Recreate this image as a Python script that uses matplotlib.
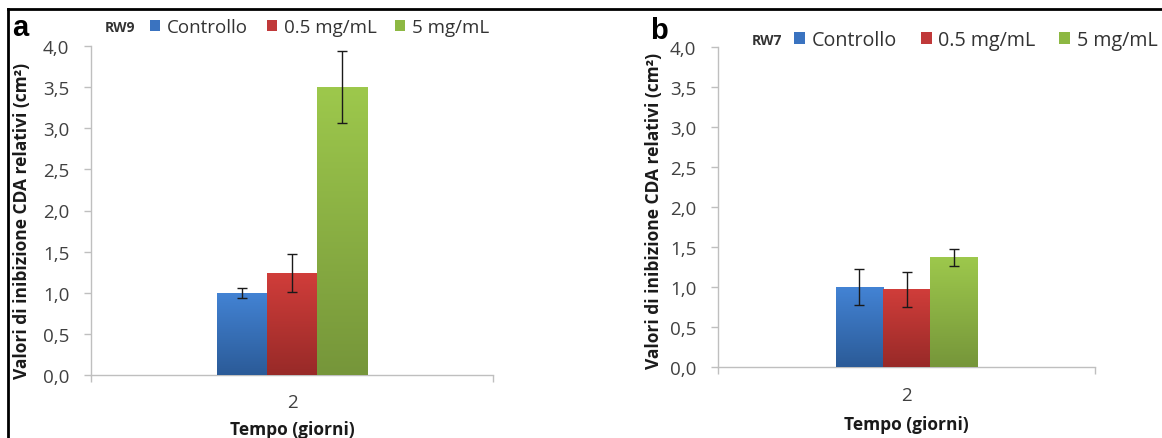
import numpy as np
import matplotlib
matplotlib.use("Agg")
from matplotlib import pyplot as plt
from matplotlib.patches import Patch
from matplotlib.lines import Line2D

plt.rcParams['font.family'] = ['Open Sans', 'DejaVu Sans']

# data
groups = ["Controllo", "0.5 mg/mL", "5 mg/mL"]
day_label = ["2"]
rw9_vals = [1.0, 1.24, 3.5]
rw9_err = [0.06, 0.23, 0.44]
rw7_vals = [1.0, 0.97, 1.37]
rw7_err = [0.22, 0.22, 0.11]

# colours (top, bottom of the gradient)
tops = ["#4383d4", "#d03d3a", "#9dc84c"]
bottoms = ["#2b5b98", "#982a28", "#76963a"]
legend_cols = ["#3a73c0", "#c0393a", "#8db843"]

W, H = 1162, 439
fig = plt.figure(figsize=(W / 100, H / 100), dpi=100)


def px_axes(x0, x1, ytop, ybot):
	return fig.add_axes([x0 / W, 1 - ybot / H, (x1 - x0) / W, (ybot - ytop) / H])


def draw_panel(ax, vals, errs, tag, lab_xy, leg_y, tag_x, leg_x, xlab_pad, ylab_xy, leg_fs, leg_cs):
	w = 0.25
	xs = (np.arange(len(vals)) - 1) * w
	bars = ax.bar(xs, vals, width=w, color=legend_cols, zorder=2)
	# vertical gradient inside each bar
	grad = np.linspace(1, 0, 100).reshape(-1, 1)
	for b, t, bt in zip(bars, tops, bottoms):
		cm = matplotlib.colors.LinearSegmentedColormap.from_list("g", [bt, t])
		x0, y0 = b.get_x(), b.get_y()
		im = ax.imshow(grad, cmap=cm, aspect='auto', zorder=3,
			extent=[x0, x0 + b.get_width(), y0, y0 + b.get_height()])
		im.set_clip_path(b)
	ax.errorbar(xs, vals, yerr=errs, fmt='none', ecolor='#1a1a1a', elinewidth=1,
		capsize=3.5, capthick=1, zorder=4)

	ax.set_xlim(-1, 1)
	ax.set_ylim(0, 4)
	ax.set_yticks(np.arange(0, 4.01, 0.5))
	ax.set_yticklabels([("%.1f" % v).replace(".", ",") for v in np.arange(0, 4.01, 0.5)])
	ax.set_xticks([0])
	ax.set_xticklabels(day_label)
	ax.set_xticks([-1, 1], minor=True)
	ax.tick_params(axis='x', which='major', length=0, pad=xlab_pad, labelsize=13.5, labelcolor='#404040')
	ax.tick_params(axis='x', which='minor', length=5, color='#bfbfbf', width=1)
	ax.tick_params(axis='y', length=5, color='#bfbfbf', width=1, pad=10.5, labelsize=13.5, labelcolor='#404040')
	for s in ['top', 'right']:
		ax.spines[s].set_visible(False)
	for s in ['left', 'bottom']:
		ax.spines[s].set_color('#bfbfbf')
		ax.spines[s].set_linewidth(1)

	ax.set_xlabel("Tempo (giorni)", fontsize=12.5, fontweight='bold', color='#1a1a1a')
	ax.xaxis.set_label_coords(*lab_xy)
	ax.set_ylabel("Valori di inibizione CDA relativi (cm²)", fontsize=12.5, fontweight='bold', color='#1a1a1a')
	ax.yaxis.set_label_coords(*ylab_xy)

	handles = [Patch(facecolor=c, edgecolor='none') for c in legend_cols]
	fig.legend(handles, groups, ncol=3, loc='center left', bbox_to_anchor=(leg_x / W, 1 - leg_y / H),
		frameon=False, fontsize=leg_fs, handlelength=0.55, handleheight=0.55, handletextpad=0.35,
		columnspacing=leg_cs, borderpad=0, borderaxespad=0, labelcolor='#333333')
	fig.text(tag_x / W, 1 - leg_y / H, tag, fontsize=10, fontweight='bold', va='center', color='#333333')
	return ax


ax1 = px_axes(91, 493, 47, 376)
draw_panel(ax1, rw9_vals, rw9_err, "RW9", (0.5, -0.137), 28, 105, 150, 13, (-0.150, 0.47), 13.5, 1.0)
ax2 = px_axes(718, 1095, 48, 368)
draw_panel(ax2, rw7_vals, rw7_err, "RW7", (0.5, -0.150), 41, 752, 794, 14, (-0.145, 0.49), 14.2, 1.2)

fig.text(12 / W, 1 - 28 / H, "a", fontsize=21, fontweight='bold', va='center', family='Liberation Sans')
fig.text(650 / W, 1 - 31 / H, "b", fontsize=21, fontweight='bold', va='center', family='Liberation Sans')

# black frame lines
fig.add_artist(Line2D([8 / W, 1], [1 - 10 / H, 1 - 10 / H], color='black', lw=2, transform=fig.transFigure))
fig.add_artist(Line2D([8 / W, 8 / W], [0, 1 - 10 / H], color='black', lw=2, transform=fig.transFigure))

fig.savefig("out.png", dpi=100)
